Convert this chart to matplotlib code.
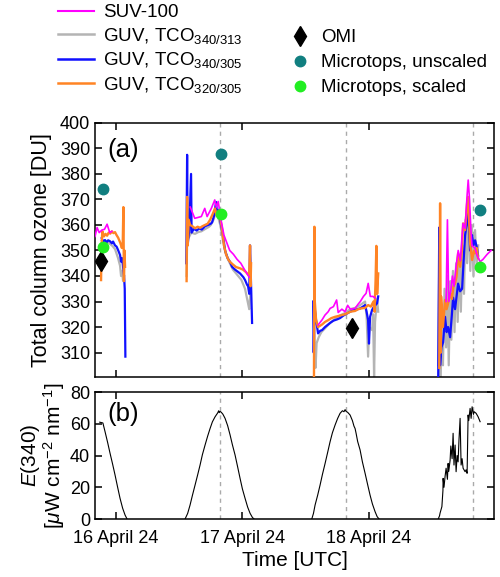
import numpy as np
import matplotlib
matplotlib.use("Agg")
import matplotlib.pyplot as plt
from matplotlib.lines import Line2D

plt.rcParams['font.family'] = ['Liberation Sans', 'DejaVu Sans']
plt.rcParams['mathtext.fontset'] = 'custom'
plt.rcParams['mathtext.rm'] = 'Liberation Sans'
plt.rcParams['mathtext.it'] = 'Liberation Sans:italic'

nan = np.nan

# time in hours since 16 April 2024 00:00 UTC
# SUV-100
suv_t = [-4.0, -3.6, -3.2, -2.7, -2.2, -1.7, -1.2, -0.8, nan,
         14.1, 14.95, 16.2, 16.85, 17.3, 18.1, 18.75, 19.05, 19.4, 20.0, 20.5, 20.95, 21.6, 22.3, 23.0, 23.7,
         24.4, 25.0, 25.3, nan,
         38.38, 39.1, 39.7, 40.3, 40.66, 41.3, 41.9, 42.2, 42.9, 43.5, 44.0, 44.5, 45.4, 46.0, 46.4, 47.0,
         47.5, 47.9, 48.3, 48.8, 49.2, nan,
         62.7, 62.95, 63.2, 63.6, 63.9, 64.2, 64.6, 65.0, 65.4, 65.9, 66.3, 66.7, 66.9, 67.15, 67.4, 67.6,
         68.2, 68.6, 69.16, 69.7, 70.5, 71.25]
suv_v = [355.5, 359, 357, 358, 358.3, 360.3, 357, 357.5, nan,
         367, 362.6, 363.3, 366.5, 363.3, 366.5, 369.8, 367, 369.2, 361.3, 356, 353.5, 350, 348.5, 346.5, 345,
         342.5, 340.5, 339.5, nan,
         320.8, 322.7, 324.7, 326, 327.3, 328, 330.6, 325.7, 327, 326, 328.5, 327, 327.3, 329, 330, 332,
         333.2, 337.1, 332, 332, 331.4, nan,
         330, 362, 330, 334.5, 340, 336, 344, 350, 346, 360.6, 358.7, 372, 377.6, 370, 358.7, 352,
         350.8, 348, 345.6, 346.5, 348.5, 350]

# GUV, TCO 340/313
g313_t = [-2.7, -2.3, -1.9, -1.5, -1.14, -0.7, -0.19, 0.38, 0.76, 0.95, 1.14, 1.33, 1.52, nan,
          13.4, 13.55, 13.8, 14.3, 15.0, 15.6, 16.2, 17.0, 17.6, 18.0, 18.5, 18.8, 19.0, 19.4, 19.8, 20.3,
          20.8, 21.5, 22.2, 23.0, 23.8, 24.5, 25.0, 25.3, 25.5, nan,
          37.45, 37.7, 37.9, 38.1, 38.5, 39.0, 39.7, 40.66, 41.5, 42.5, 43.5, 44.46, 45.4, 46.3, 47.31,
          47.6, 47.88, 48.1, 48.64, 48.83, 49.02, 49.2, 49.59, 49.8, nan,
          61.2, 61.4, 61.6, 61.9, 62.1, 62.4, 62.7, 62.95, 63.2, 63.5, 63.7, 64.0, 64.3, 64.6, 64.9, 65.2,
          65.5, 65.8, 66.1, 66.4, 66.7, 67.0, 67.3, 67.6, 67.9, 68.2, 68.5, 68.8]
g313_v = [354, 353.5, 352.5, 353.2, 352.5, 351.8, 350.5, 347, 344, 340, 342, 338, 340, nan,
          340, 360, 355, 357, 356.5, 357.2, 357.5, 358.5, 359.2, 360, 362, 364, 366, 363, 360, 354,
          349, 345.5, 342.5, 340.5, 338.5, 335, 330, 327, 333, nan,
          328, 316.2, 304, 313.7, 316, 318, 319.5, 321.6, 323, 324.5, 325.5, 327, 327.5, 328.5, 330,
          324, 308.4, 320, 318.8, 325, 300.5, 322, 331, 326, nan,
          305, 345, 300, 325, 305, 335, 312, 340, 305, 338, 315, 342, 318, 345, 322, 348,
          326, 352, 333, 362, 345, 365, 342, 360, 340, 358, 344, 352]

# GUV, TCO 340/305
g305_t = [-2.72, -2.47, -2.1, -1.8, -1.5, -1.14, -0.8, -0.57, -0.2, 0.1, 0.38, 0.76, 0.95, 1.14, 1.33,
          1.52, 1.65, 1.77, nan,
          13.35, 13.5, 13.6, 13.9, 14.25, 14.35, 14.8, 15.3, 15.8, 16.3, 16.9, 17.5, 18.0, 18.24, 18.6,
          19.0, 19.2, 19.5, 19.76, 20.3, 20.71, 21.2, 21.66, 22.04, 22.6, 23.56, 24.2, 24.51, 24.9, 25.08,
          25.3, 25.45, 25.84, nan,
          37.45, 37.55, 37.7, 38.0, 38.38, 38.76, 39.14, 39.7, 40.66, 41.3, 42.0, 42.56, 43.2, 43.8, 44.46,
          45.0, 45.6, 46.36, 46.9, 47.31, 47.6, 47.88, 48.05, 48.26, 48.64, 49.0, 49.59, 49.8, nan,
          61.2, 61.4, 61.56, 61.8, 62.13, 62.5, 62.8, 63.08, 63.46, 63.8, 64.03, 64.4, 64.98, 65.36, 65.74,
          66.0, 66.31, 66.6, 66.88, 67.26, 67.64, 67.9, 68.21, 68.5, 68.78]
g305_v = [354.8, 353.5, 354.1, 353.2, 354, 353.6, 352.8, 353.5, 352, 351.5, 350.2, 348.2, 345.6, 347, 343.6,
          340, 335, 308.4, nan,
          345, 387.5, 352, 358, 380, 357, 358.5, 357.8, 358.6, 358.2, 359.5, 360, 360.5, 361, 363.5,
          369, 364, 366, 362, 356, 350, 347, 345.5, 343.6, 342.5, 341, 339.5, 338.4, 336.5, 336,
          333, 352, 321.6, nan,
          330, 310, 328, 322.7, 317.5, 318.5, 318.8, 320, 321.6, 322.5, 323, 323.5, 324.5, 325.2, 326,
          326.5, 326.8, 327.3, 328, 328.6, 326, 322.7, 313.5, 324, 326.7, 328, 329.3, 332, nan,
          300, 359, 305, 312, 314, 324, 318, 320, 316, 325, 331.5, 327, 337, 334, 335,
          345, 356, 360, 366, 350, 356, 352, 354, 351.5, 348]

# GUV, TCO 320/305
g320_t = [-2.85, -2.75, -2.6, -2.3, -2.0, -1.7, -1.4, -1.1, -0.8, -0.5, -0.2, 0.1, 0.4, 0.8, 1.1, 1.27,
          1.39, 1.5, 1.6, 1.71, nan,
          13.4, 13.5, 13.6, 13.8, 14.06, 14.5, 15.0, 15.5, 15.96, 16.4, 16.9, 17.4, 17.86, 18.3, 18.8,
          19.1, 19.4, 19.76, 20.1, 20.5, 20.9, 21.3, 21.66, 22.2, 22.8, 23.56, 24.1, 24.7, 25.1, 25.3,
          25.45, 25.55, 25.65, nan,
          37.6, 37.68, 37.76, 38.0, 38.38, 38.76, 39.14, 39.7, 40.3, 40.9, 41.6, 42.2, 42.9, 43.5, 44.0,
          44.5, 45.4, 46.0, 46.6, 47.3, 47.9, 48.4, 48.9, 49.1, 49.3, 49.45, 49.6, 49.8, nan,
          61.4, 61.56, 61.7, 61.75, 62.1, 62.5, 62.8, 63.08, 63.46, 63.8, 64.1, 64.41, 64.7, 64.98, 65.36,
          65.7, 65.93, 66.31, 66.69, 66.88, 67.26, 67.64, 68.0, 68.21, 68.5, 68.78]
g320_v = [338.4, 352, 357.5, 355.5, 356.5, 355.8, 357, 356.6, 357.5, 356.8, 357.2, 356, 355, 353, 351, 352.8,
          367, 338, 350, 343.6, nan,
          338, 371, 352, 362, 360, 359.5, 358.7, 359.3, 358.9, 359.5, 360, 360.5, 362, 364, 366.5,
          363.7, 365, 363, 359, 352, 348.5, 346.5, 345.5, 344.5, 343.5, 343, 342.5, 341.5, 340.5, 341,
          352, 336, 345, nan,
          300, 359.3, 330, 322.7, 320, 320.5, 321, 322, 322.7, 323.5, 324, 324.3, 324.7, 325, 325.5,
          326, 326.3, 327, 327.3, 327.5, 328.6, 328, 330, 326, 338, 351.8, 333, 341, nan,
          304, 368.5, 310, 332, 320, 330.6, 327, 329.3, 333.2, 331, 336, 337.1, 340, 348.9, 343.6,
          350, 360.6, 358, 368.5, 371, 352.8, 346.3, 350, 348.9, 351, 347]

# point measurements
omi_t = [-2.9, 44.8]
omi_v = [346, 319.5]
mt_t = [-2.5, 20.0, 69.2]
mt_unscaled = [374, 388, 366]
mt_scaled = [351.3, 364.2, 343.6]

# E(340) irradiance, uW cm-2 nm-1
e_t = [-3.1, -2.5, -2.09, -1.6, -1.14, -0.65, -0.19, 0.3, 0.76, 1.25, 1.71, 2.09, nan,
       13.11, 13.6, 14.06, 14.5, 15.01, 15.5, 15.96, 16.4, 16.91, 17.4, 17.86, 18.3, 18.81, 19.3, 19.5,
       19.6, 19.76, 20.0, 20.3, 20.71, 21.2, 21.66, 22.1, 22.61, 23.1, 23.56, 24.0, 24.51, 25.0, 25.46,
       25.9, 26.22, nan,
       37.18, 37.5, 37.81, 38.3, 38.76, 39.2, 39.71, 40.2, 40.66, 41.1, 41.61, 42.1, 42.56, 43.0, 43.3,
       43.51, 43.7, 44.0, 44.46, 44.9, 45.2, 45.41, 45.6, 45.9, 46.36, 46.8, 47.31, 47.8, 48.26, 48.7,
       49.21, 49.6, 49.97, nan,
       61.2, 61.45, 61.56, 61.9, 62.1, 62.13, 62.3, 62.51, 62.7, 62.95, 63.08, 63.2, 63.46, 63.6, 63.84,
       64.03, 64.2, 64.41, 64.6, 64.8, 64.98, 65.15, 65.36, 65.55, 65.74, 65.93, 66.31, 66.5, 66.69,
       66.88, 67.0, 67.26, 67.45, 67.64, 67.9, 68.02, 68.4, 68.78, 69.16]
e_v = [61, 60.5, 55, 48.2, 41.4, 34.5, 27.7, 20, 13, 6.8, 2.5, 0, nan,
       0, 3.5, 8.8, 14.8, 21.4, 27.8, 34, 40.5, 46.6, 52.2, 57, 61.2, 64.4, 66.8, 68.2,
       67.0, 67.8, 67.2, 66, 63.4, 58.8, 53, 46.8, 40.3, 32.8, 25.6, 19, 13, 7.5, 3.6,
       1, 0, nan,
       0, 3.5, 8.8, 15, 21.4, 28, 35, 42, 48.7, 54.3, 59.2, 63.4, 66.6, 68.2, 67.6,
       68.9, 67.8, 67.2, 65.5, 62, 58.5, 57, 54, 48.8, 43.5, 36, 28.8, 21.6, 15, 9.5,
       4.6, 1.5, 0, nan,
       0, 2, 3.8, 7.8, 18, 25.6, 20, 27, 32, 25, 35, 30, 37, 46, 38,
       54, 34, 46.6, 29.8, 40, 36, 50, 63.4, 34, 38, 32, 29.8, 31, 28.8,
       65.5, 62, 69.7, 63.4, 70.7, 66, 67.6, 66.6, 64.4, 61.3]

noon_t = [19.75, 43.75, 67.75]
day_ticks = [0, 24, 48]
day_labels = ['16 April 24', '17 April 24', '18 April 24']

fig = plt.figure(figsize=(5, 5.77), dpi=100)
ax1 = fig.add_axes([0.19, 0.347, 0.798, 0.44])
ax2 = fig.add_axes([0.19, 0.1005, 0.798, 0.2201])

for ax in (ax1, ax2):
    for t in noon_t:
        ax.axvline(t, color='#aaaaaa', lw=1, dashes=(3, 3), zorder=0)

ax1.plot(g313_t, g313_v, color='#b4b4b4', lw=1.6, zorder=2)
ax1.plot(g305_t, g305_v, color='#1010ff', lw=1.6, zorder=3)
ax1.plot(g320_t, g320_v, color='#ff8424', lw=1.7, zorder=4)
ax1.plot(suv_t, suv_v, color='#ff00ff', lw=1.2, zorder=5)
ax1.plot(omi_t, omi_v, 'd', color='black', ms=10, zorder=6)
ax1.plot(mt_t, mt_unscaled, 'o', color='#117f80', ms=7.5, zorder=6)
ax1.plot(mt_t, mt_scaled, 'o', color='#22ee22', ms=7.5, zorder=6)

ax2.plot(e_t, e_v, color='black', lw=0.8)

for ax in (ax1, ax2):
    ax.set_xlim(-4.0, 71.8)
    ax.set_xticks(day_ticks)
    ax.tick_params(direction='in', top=True, right=True, length=5, width=1.1, labelsize=13)
    for s in ax.spines.values():
        s.set_linewidth(1.1)

ax1.set_ylim(300.5, 400)
ax1.set_yticks(range(310, 401, 10))
ax1.set_xticklabels([])
ax1.set_ylabel('Total column ozone [DU]', fontsize=15.5, labelpad=6)
ax1.text(0.03, 0.94, '(a)', transform=ax1.transAxes, fontsize=18.5, va='top')

ax2.set_ylim(0, 80)
ax2.set_yticks([0, 20, 40, 60, 80])
ax2.set_xticklabels(day_labels)
ax2.tick_params(axis='x', pad=8)
ax2.set_xlabel('Time [UTC]', fontsize=15, labelpad=3)
ax2.set_ylabel('$E$(340)\n[$\\mu$W cm$^{-2}$ nm$^{-1}$]', fontsize=15, labelpad=2, linespacing=0.95)
ax2.text(0.03, 0.92, '(b)', transform=ax2.transAxes, fontsize=18.5, va='top')

h1 = [Line2D([], [], color='#ff00ff', lw=1.5),
      Line2D([], [], color='#b4b4b4', lw=1.8),
      Line2D([], [], color='#1010ff', lw=1.8),
      Line2D([], [], color='#ff8424', lw=1.8)]
l1 = ['SUV-100', 'GUV, TCO$_{340/313}$', 'GUV, TCO$_{340/305}$', 'GUV, TCO$_{320/305}$']
fig.legend(h1, l1, loc='upper left', bbox_to_anchor=(58 / 500, 1 - 4 / 577), frameon=False,
           fontsize=13.5, borderpad=0, borderaxespad=0, handlelength=1.9, handletextpad=0.5,
           labelspacing=0.24)

h2 = [Line2D([], [], ls='', marker='d', color='black', ms=10),
      Line2D([], [], ls='', marker='o', color='#117f80', ms=7.5),
      Line2D([], [], ls='', marker='o', color='#22ee22', ms=7.5)]
l2 = ['OMI', 'Microtops, unscaled', 'Microtops, scaled']
fig.legend(h2, l2, loc='upper left', bbox_to_anchor=(291 / 500, 1 - 29 / 577), frameon=False,
           fontsize=13.5, borderpad=0, borderaxespad=0, handlelength=1.0, handletextpad=0.6,
           labelspacing=0.42)

fig.savefig('out.png', dpi=100)
